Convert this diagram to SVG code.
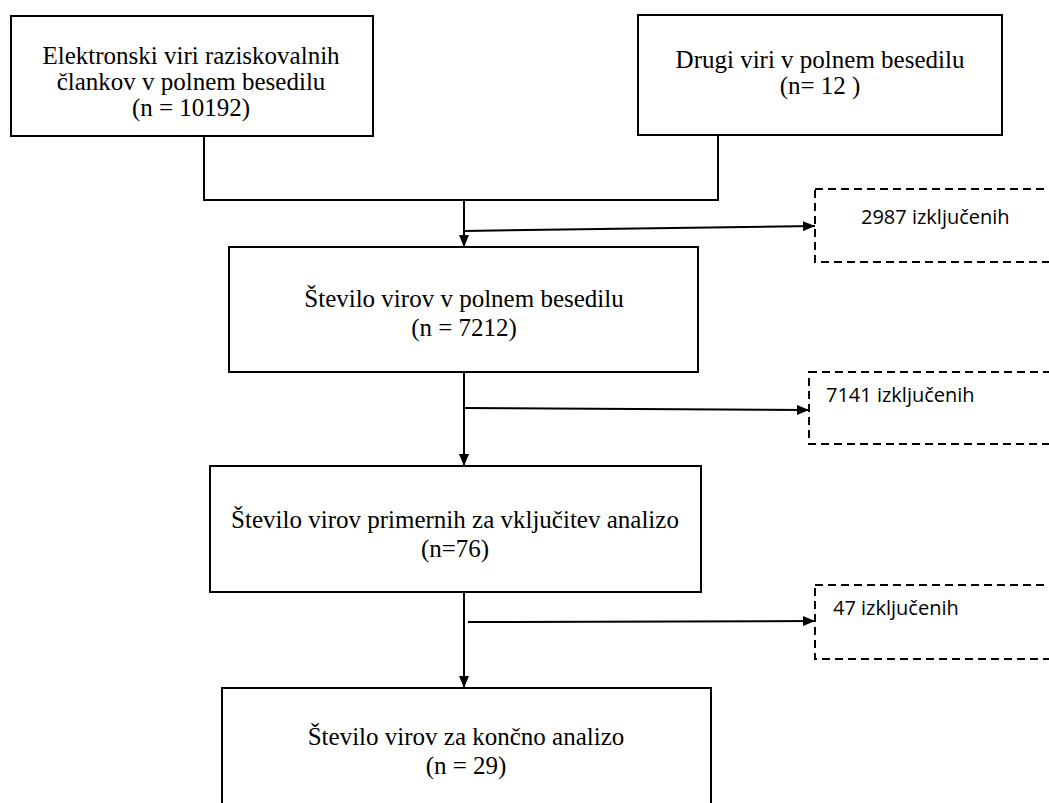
<svg xmlns="http://www.w3.org/2000/svg" width="1049" height="803" viewBox="0 0 1049 803">
<style>
.box{fill:#fff;stroke:#000;stroke-width:2}
.dbox{fill:none;stroke:#000;stroke-width:2;stroke-dasharray:8 5}
.t{font-family:"Liberation Serif","Times New Roman",serif;font-size:25px;fill:#000;text-anchor:middle}
.s{font-family:"Open Sans","Noto Sans",sans-serif;font-size:20px;fill:#000}
.ln{fill:none;stroke:#000;stroke-width:2}
</style>
<defs>
<marker id="arr" viewBox="0 0 12 10" refX="12" refY="5" markerWidth="12" markerHeight="10" orient="auto" markerUnits="userSpaceOnUse">
<path d="M0,0 L12,5 L0,10 z" fill="#000"/>
</marker>
</defs>
<g id="connectors">
<polyline class="ln" points="204,136 204,200 718,200 718,135"/>
<line class="ln" x1="464" y1="200" x2="464" y2="247" marker-end="url(#arr)"/>
<line class="ln" x1="464" y1="231" x2="815" y2="226" marker-end="url(#arr)"/>
<line class="ln" x1="464" y1="372" x2="464" y2="466" marker-end="url(#arr)"/>
<line class="ln" x1="464" y1="408" x2="809" y2="410" marker-end="url(#arr)"/>
<line class="ln" x1="464" y1="592" x2="464" y2="688" marker-end="url(#arr)"/>
<line class="ln" x1="468" y1="622" x2="815" y2="621" marker-end="url(#arr)"/>
</g>
<g id="n1">
<rect class="box" x="11" y="16" width="362" height="120"/>
<text class="t" x="191" y="64">Elektronski viri raziskovalnih</text>
<text class="t" x="191" y="90">člankov v polnem besedilu</text>
<text class="t" x="191" y="116">(n = 10192)</text>
</g>
<g id="n2">
<rect class="box" x="638" y="15" width="364" height="120"/>
<text class="t" x="820" y="68">Drugi viri v polnem besedilu</text>
<text class="t" x="820" y="94">(n= 12 )</text>
</g>
<g id="n3">
<rect class="box" x="229" y="247" width="469" height="125"/>
<text class="t" x="464" y="307">Število virov v polnem besedilu</text>
<text class="t" x="464" y="336">(n = 7212)</text>
</g>
<g id="x1">
<rect class="dbox" x="815" y="189" width="250" height="73"/>
<text class="s" x="861" y="224">2987 izključenih</text>
</g>
<g id="n4">
<rect class="box" x="210" y="466" width="491" height="126"/>
<text class="t" x="455" y="528">Število virov primernih za vključitev analizo</text>
<text class="t" x="455" y="557">(n=76)</text>
</g>
<g id="x2">
<rect class="dbox" x="809" y="372" width="260" height="72"/>
<text class="s" x="826" y="402">7141 izključenih</text>
</g>
<g id="x3">
<rect class="dbox" x="815" y="585" width="250" height="74"/>
<text class="s" x="833" y="615">47 izključenih</text>
</g>
<g id="n5">
<rect class="box" x="222" y="688" width="489" height="130"/>
<text class="t" x="466" y="745">Število virov za končno analizo</text>
<text class="t" x="466" y="774">(n = 29)</text>
</g>
</svg>
